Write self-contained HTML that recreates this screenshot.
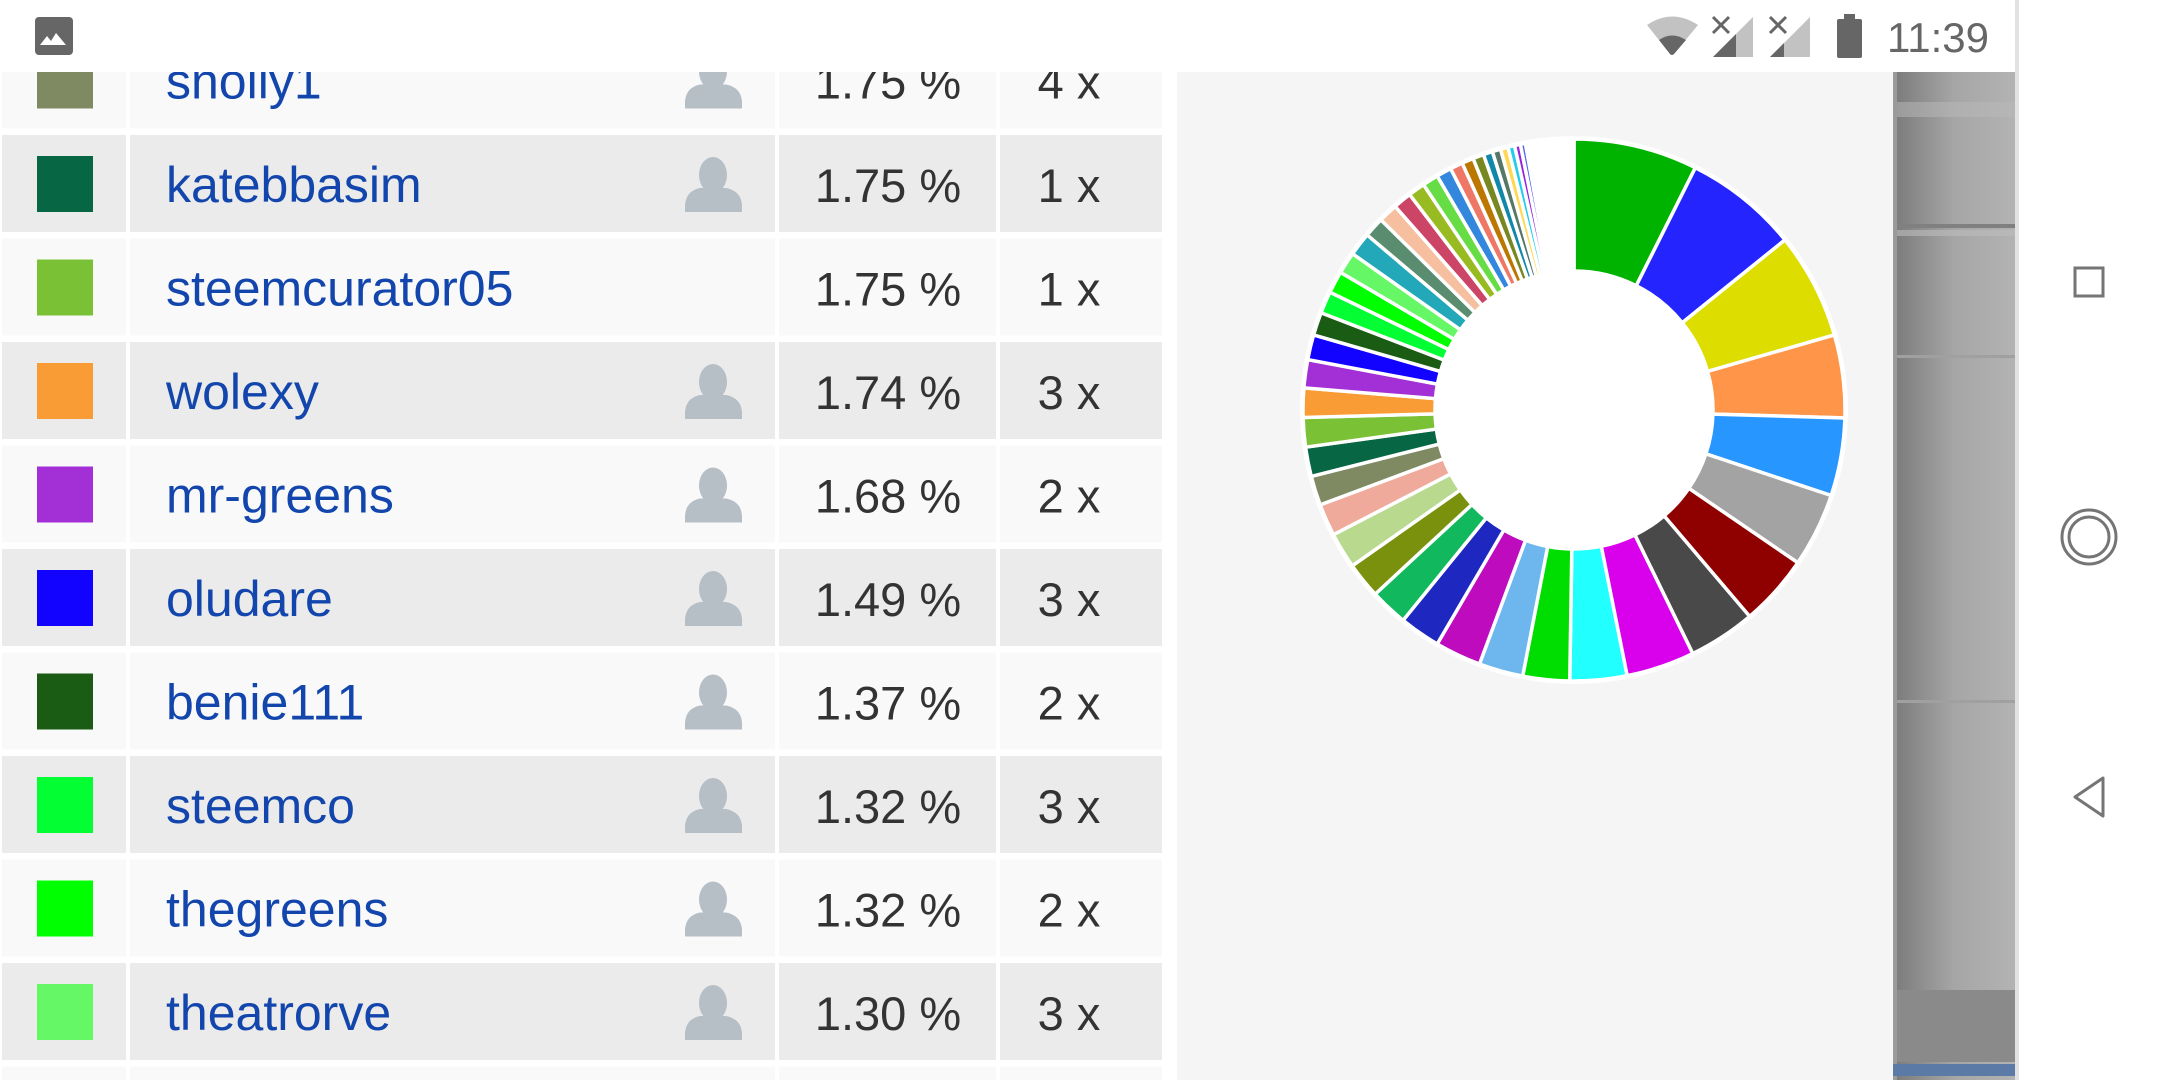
<!DOCTYPE html>
<html><head><meta charset="utf-8"><style>
html,body{margin:0;padding:0;width:2160px;height:1080px;overflow:hidden;background:#fff}
svg{display:block;overflow:hidden}
text{font-family:"Liberation Sans",sans-serif}
</style></head><body>
<svg id="page" width="2160" height="1080" viewBox="0 0 2160 1080" xmlns="http://www.w3.org/2000/svg">
<defs>
<linearGradient id="gscroll" x1="0" x2="1" y1="0" y2="0"><stop offset="0" stop-color="#7a7a7a"/><stop offset="0.5" stop-color="#a6a6a6"/><stop offset="1" stop-color="#b3b3b3"/></linearGradient>
</defs>
<rect x="0" y="0" width="2160" height="1080" fill="#ffffff"/>
<rect x="1177" y="72" width="716" height="1008" fill="#f5f5f5"/>
<g>
<rect x="1893" y="72" width="123" height="1008" fill="url(#gscroll)"/>
<rect x="1893" y="72" width="4" height="1008" fill="#9a9a9a"/>
<rect x="1897" y="102" width="119" height="15" fill="#b9b9b9" opacity="0.5"/>
<rect x="1897" y="224" width="119" height="4" fill="#808080"/>
<rect x="1897" y="230" width="119" height="6" fill="#bdbdbd" opacity="0.6"/>
<rect x="1897" y="355" width="119" height="3" fill="#a0a0a0"/>
<rect x="1897" y="700" width="119" height="3" fill="#a0a0a0"/>
<rect x="1897" y="990" width="119" height="72" fill="#8a8a8a"/>
<rect x="1893" y="1064" width="123" height="12" fill="#5c7aa6"/>
</g>
<g id="table"></g>
<g id="donut"></g>
<g>
<rect x="0" y="0" width="2018" height="72" fill="#ffffff"/>
<g>
<rect x="35" y="17" width="38" height="38" rx="4" fill="#666"/>
<path d="M40 45 L47 36 L51 41 L56 33 L66 45 Z" fill="#fff"/>
</g>
<g>
<path d="M1647 25 Q1672 8 1698 25 L1674 54 Q1672 56 1670 54 Z" fill="#c2c2c2"/>
<path d="M1659 40 Q1672 31 1686 40 L1674 54 Q1672 56 1670 54 Z" fill="#666"/>
</g>
<g>
<path d="M1713 57 L1753 17 L1753 57 Z" fill="#c2c2c2"/>
<path d="M1713 57 L1736 34 L1736 57 Z" fill="#666"/>
<path d="M1713 17 L1729 33 M1729 17 L1713 33" stroke="#666" stroke-width="3"/>
</g>
<g>
<path d="M1770 57 L1810 17 L1810 57 Z" fill="#c2c2c2"/>
<path d="M1770 57 L1784 43 L1784 57 Z" fill="#666"/>
<path d="M1770 17 L1786 33 M1786 17 L1770 33" stroke="#666" stroke-width="3"/>
</g>
<g>
<rect x="1844" y="14" width="11" height="6" fill="#666"/>
<rect x="1837" y="19" width="25" height="39" rx="2" fill="#666"/>
</g>
<text x="1887" y="52" font-size="42" fill="#666">11:39</text>
</g>
<g>
<rect x="2018" y="0" width="142" height="1080" fill="#ffffff"/>
<rect x="2015" y="0" width="4" height="1080" fill="#e2e2e2"/>
<rect x="2075" y="268" width="28" height="28" fill="none" stroke="#757575" stroke-width="3"/>
<g>
<circle cx="2089" cy="537" r="27" fill="none" stroke="#757575" stroke-width="3"/>
<circle cx="2089" cy="537" r="20" fill="none" stroke="#757575" stroke-width="3"/>
</g>
<path d="M2103 778 L2075 797 L2103 816 Z" fill="none" stroke="#757575" stroke-width="3" stroke-linejoin="round"/>
</g>
</svg>
<script>
// ---- table data ----
const rowNames = ["snolly1","katebbasim","steemcurator05","wolexy","mr-greens","oludare","benie111","steemco","thegreens","theatrorve",""];
const rowPcts = ["1.75 %","1.75 %","1.75 %","1.74 %","1.68 %","1.49 %","1.37 %","1.32 %","1.32 %","1.30 %",""];
const rowCounts = ["4 x","1 x","1 x","3 x","2 x","3 x","2 x","3 x","2 x","3 x",""];
const rowColors = ["#808a62","#076643","#7bc136","#f99c35","#a230d6","#1202ff","#1a5c14","#03ff33","#00ff00","#66f766",""];
const rowIcons = [true,true,false,true,true,true,true,true,true,true,false];

// ---- donut data (percent share) ----
const sliceLabels = ["v1","v2","v3","v4","v5","v6","v7","v8","v9","v10","v11","v12","v13","v14","v15","v16","v17","v18",
 "snolly1","katebbasim","steemcurator05","wolexy","mr-greens","oludare","benie111","steemco","thegreens","theatrorve",
 "s1","s2","s3","s4","s5","s6","s7","s8","s9","s10","s11","s12","s13","s14","s15","s16","s17","s18"];
const sliceValues = [7.39,6.81,6.33,4.94,4.64,4.42,4.25,4.0,4.08,3.39,2.78,2.64,2.75,2.44,2.25,2.14,2.14,1.92,
 1.75,1.75,1.75,1.74,1.68,1.49,1.37,1.32,1.32,1.30,
 1.4,1.2,1.15,1.1,1.0,0.95,0.9,0.75,0.7,0.65,0.55,0.5,0.45,0.4,0.35,0.3,0.2,0.15];
const sliceColors = ["#00b300","#2424ff","#dddd00","#ff9548","#2896ff","#a3a3a3","#8f0000","#494949","#d900ec","#22ffff","#00dd00","#6db7ee","#bd0bbd","#1e28c0","#12b85e","#7a910e","#b9d98f","#f0aa9b",
 "#808a62","#076643","#7bc136","#f99c35","#a230d6","#1202ff","#1a5c14","#03ff33","#00ff00","#66f766",
 "#22a8b8","#5a8c70","#f5bfa0","#cc4466","#99bb22","#66dd44","#3388dd","#ee7766","#bb7700","#778822","#1188aa","#557766","#ffd755","#22ccee","#9922dd","#5566ee","#ff8822","#ffaa66"];

const NS = "http://www.w3.org/2000/svg";
function mk(tag, attrs, parent){ const e=document.createElementNS(NS,tag); for(const k in attrs) e.setAttribute(k,attrs[k]); parent.appendChild(e); return e; }

// table
const table = document.getElementById('table');
const ROW0 = 135 - 103.5, PITCH = 103.5, RH = 97;
rowNames.forEach((nm,i)=>{
  const top = ROW0 + i*PITCH;
  const h = Math.max(0, Math.min(RH, 1080 - top));
  const bg = (i%2===1) ? "#ebebeb" : "#f9f9f9";
  const g = mk('g',{},table);
  
  
  mk('rect',{x:2,y:top,width:124,height:h,fill:bg},g);
  mk('rect',{x:130,y:top,width:645,height:h,fill:bg},g);
  mk('rect',{x:779,y:top,width:217,height:h,fill:bg},g);
  mk('rect',{x:1000,y:top,width:162,height:h,fill:bg},g);
  if(!nm) return;
  const sw = mk('rect',{x:37,y:top+21,width:56,height:56,fill:rowColors[i]},g);
  
  
  const t = mk('text',{x:166,y:top+67,'font-size':50,fill:'#1346ad'},g);
  t.textContent = nm;
  
  
  if(rowIcons[i]){
    const ic = mk('g',{fill:'#b6bec6'},g);
    
    
    mk('ellipse',{cx:713,cy:top+40,rx:14,ry:18},ic);
    mk('path',{d:`M685 ${top+77} L685 ${top+70} Q686 ${top+56} 700 ${top+53} L726 ${top+53} Q741 ${top+56} 742 ${top+70} L742 ${top+77} Z`},ic);
  }
  const p = mk('text',{x:888,y:top+67,'font-size':47,fill:'#333','text-anchor':'middle'},g);
  p.textContent = rowPcts[i];
  
  
  const c = mk('text',{x:1069,y:top+67,'font-size':47,fill:'#333','text-anchor':'middle'},g);
  c.textContent = rowCounts[i];
  
  
});

// donut
const donut = document.getElementById('donut');
const CX=1574, CY=410, RO=271, RI=139;
const total = 100;
function ang(v){ return v/total*2*Math.PI; }
function pt(r,a){ return [CX + r*Math.sin(a), CY - r*Math.cos(a)]; }
mk('circle',{cx:CX,cy:CY,r:RO+3,fill:'#ffffff'},donut);
let acc = 0;
function slice(v,color,name){
  const a0=ang(acc), a1=ang(acc+v); acc+=v;
  const large = (a1-a0)>Math.PI?1:0;
  const [x0,y0]=pt(RO,a0),[x1,y1]=pt(RO,a1),[x2,y2]=pt(RI,a1),[x3,y3]=pt(RI,a0);
  const d=`M${x0} ${y0} A${RO} ${RO} 0 ${large} 1 ${x1} ${y1} L${x2} ${y2} A${RI} ${RI} 0 ${large} 0 ${x3} ${y3} Z`;
  const s = mk('path',{d:d,fill:color,stroke:'#ffffff','stroke-width':3.5,'stroke-linejoin':'miter'},donut);
  
  
  return s;
}
sliceValues.forEach((v,i)=>{ slice(v,sliceColors[i],sliceLabels[i]); });
const rest = total - acc;
if(rest>0){ slice(rest,'#ffffff','other'); }
</script>
</body></html>
